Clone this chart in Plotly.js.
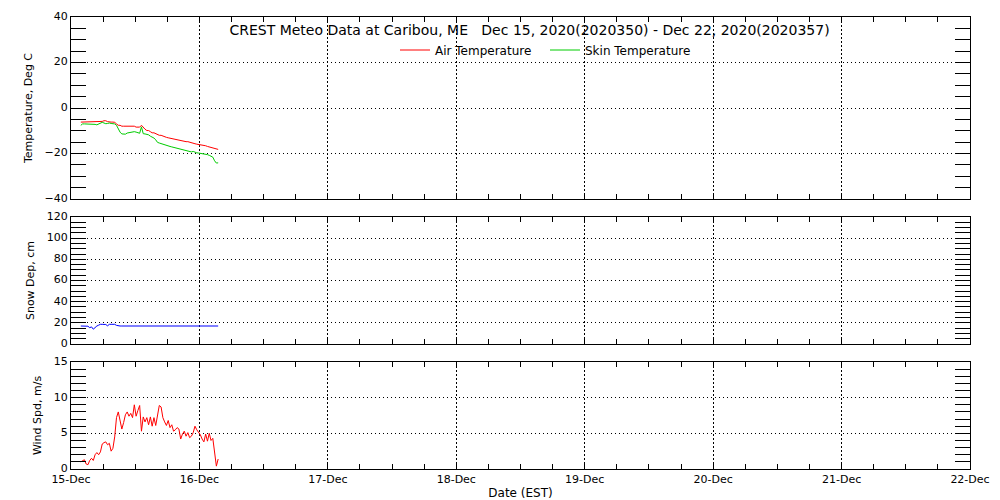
<!DOCTYPE html>
<html><head><meta charset="utf-8">
<script src="https://cdn.plot.ly/plotly-3.0.1.min.js"></script>
<style>html,body{margin:0;padding:0;background:#fff}#chart{width:1000px;height:500px}</style>
</head><body><div id="chart"></div>
<script>
const times = [
'2020-12-15 01:50','2020-12-15 02:10','2020-12-15 02:30','2020-12-15 02:50','2020-12-15 03:10','2020-12-15 03:30','2020-12-15 03:50','2020-12-15 04:10','2020-12-15 04:30','2020-12-15 04:50',
'2020-12-15 05:10','2020-12-15 05:30','2020-12-15 05:50','2020-12-15 06:10','2020-12-15 06:30','2020-12-15 06:50','2020-12-15 07:10','2020-12-15 07:30','2020-12-15 07:50','2020-12-15 08:10',
'2020-12-15 08:30','2020-12-15 08:50','2020-12-15 09:10','2020-12-15 09:30','2020-12-15 09:50','2020-12-15 10:10','2020-12-15 10:30','2020-12-15 10:50','2020-12-15 11:10','2020-12-15 11:30',
'2020-12-15 11:50','2020-12-15 12:10','2020-12-15 12:30','2020-12-15 12:50','2020-12-15 13:10','2020-12-15 13:30','2020-12-15 13:50','2020-12-15 14:10','2020-12-15 14:30','2020-12-15 14:50',
'2020-12-15 15:10','2020-12-15 15:30','2020-12-15 15:50','2020-12-15 16:10','2020-12-15 16:30','2020-12-15 16:50','2020-12-15 17:10','2020-12-15 17:30','2020-12-15 17:50','2020-12-15 18:10',
'2020-12-15 18:30','2020-12-15 18:50','2020-12-15 19:10','2020-12-15 19:30','2020-12-15 19:50','2020-12-15 20:10','2020-12-15 20:30','2020-12-15 20:50','2020-12-15 21:10','2020-12-15 21:30',
'2020-12-15 21:50','2020-12-15 22:10','2020-12-15 22:30','2020-12-15 22:50','2020-12-15 23:10','2020-12-15 23:30','2020-12-15 23:50','2020-12-16 00:10','2020-12-16 00:30','2020-12-16 00:50',
'2020-12-16 01:10','2020-12-16 01:30','2020-12-16 01:50','2020-12-16 02:10','2020-12-16 02:30','2020-12-16 02:50','2020-12-16 03:10','2020-12-16 03:30'
];
const airTemp = [
-6.2,-6.2,-6.2,-6.2,-6.2,-6.2,-6.2,-6.2,-6.2,-6.1,
-6.0,-6.1,-5.9,-5.6,-5.6,-6.0,-6.2,-6.2,-6.2,-6.3,
-7.0,-7.6,-7.6,-8.0,-8.0,-8.0,-8.0,-8.0,-8.0,-8.0,
-8.0,-8.4,-8.4,-8.4,-7.6,-8.6,-9.3,-9.9,-9.9,-10.4,
-10.9,-10.9,-11.4,-11.6,-12.0,-12.0,-12.4,-12.6,-12.9,-13.1,
-13.3,-13.5,-13.7,-13.7,-14.0,-14.2,-14.4,-14.4,-14.6,-14.8,
-14.8,-15.1,-15.3,-15.5,-15.7,-15.9,-16.0,-16.2,-16.2,-16.4,
-16.6,-16.9,-17.1,-17.2,-17.4,-17.8,-18.1,-18.2
];
const skinTemp = [
-7.6,-7.0,-7.0,-7.0,-7.1,-7.0,-7.2,-7.0,-7.2,-7.4,
-7.0,-6.6,-6.3,-6.6,-6.9,-6.8,-6.6,-6.8,-6.8,-7.0,
-7.6,-9.4,-10.6,-11.4,-11.6,-11.5,-11.0,-10.8,-10.6,-10.5,
-10.4,-10.6,-10.7,-11.1,-8.3,-11.3,-11.4,-11.6,-11.8,-12.4,
-12.8,-13.2,-14.0,-15.1,-15.4,-15.7,-16.0,-16.3,-16.5,-16.7,
-16.9,-17.1,-17.3,-17.5,-17.7,-18.0,-18.3,-18.5,-18.6,-18.9,
-19.0,-19.2,-19.3,-19.1,-19.5,-19.7,-19.8,-19.9,-20.1,-20.2,
-20.3,-20.5,-20.8,-21.1,-21.6,-23.2,-24.2,-24.1
];
const snowDepth = [
17.0,17.0,17.0,17.0,16.8,15.4,16.2,14.0,15.6,17.0,
17.8,18.6,18.6,18.6,18.4,17.2,18.6,18.6,18.6,18.6,
17.6,17.0,17.0,17.0,17.0,17.0,16.7,17.0,17.0,17.0,
17.0,17.0,17.0,17.0,16.7,17.0,17.0,17.0,16.7,17.0,
17.0,17.0,17.0,17.0,16.7,17.0,17.0,17.0,17.0,17.0,
17.0,17.0,17.0,17.0,17.0,17.0,17.0,17.0,17.0,16.7,
17.0,17.0,17.0,17.0,17.0,17.0,17.0,17.0,17.0,17.0,
17.0,17.0,17.0,17.0,17.0,17.0,17.0,17.0
];
const windSpeed = [
1.0,1.2,1.3,0.7,0.6,1.2,1.5,1.2,2.0,2.3,
2.0,2.4,3.5,3.7,3.8,3.4,3.6,2.5,2.9,4.5,
7.2,8.0,7.0,5.6,6.5,7.6,8.0,7.4,7.8,7.2,
9.0,7.4,8.2,8.9,5.3,7.3,6.6,7.2,6.2,7.3,
6.0,7.2,6.1,7.4,8.9,8.7,7.2,6.6,6.1,6.8,
5.8,6.2,5.3,5.5,5.8,5.6,4.2,4.9,5.3,4.6,
5.1,4.4,4.6,5.1,6.0,5.5,5.1,4.8,4.2,3.8,
4.9,3.9,5.0,4.0,4.3,2.6,0.4,1.4
];
const dateRange = ['2020-12-15 00:00','2020-12-22 00:00'];
const titleText = 'CREST Meteo Data at Caribou, ME\u00a0\u00a0\u00a0Dec 15, 2020(2020350) - Dec 22, 2020(2020357)';

const FONT = 'DejaVu Sans, sans-serif';
const DAY = 86400000, SIXH = 21600000;

function xAx(anchor, labels, title) {
  const a = {
    type:'date', range:dateRange, anchor:anchor,
    tickmode:'linear', tick0:dateRange[0], dtick:DAY, tickformat:'%d-%b',
    showticklabels:labels, ticks:'inside', ticklen:5, tickcolor:'#000', tickwidth:1,
    minor:{tick0:dateRange[0], dtick:SIXH, ticks:'inside', ticklen:5, tickcolor:'#000', showgrid:false},
    showgrid:true, gridcolor:'#000', gridwidth:1, griddash:'2px,2px',
    showline:true, linecolor:'#000', linewidth:1, mirror:'ticks',
    zeroline:false, fixedrange:true,
    tickfont:{family:FONT, size:11, color:'#000'}
  };
  if (title) a.title = {text:title, font:{family:FONT, size:12, color:'#000'}, standoff:4};
  return a;
}
function yAx(domain, range, dtick, mdtick, title, anchor) {
  return {
    domain:domain, range:range, anchor:anchor,
    tickmode:'linear', tick0:range[0], dtick:dtick,
    ticks:'inside', ticklen:15, tickcolor:'#000', tickwidth:1,
    minor:{tick0:range[0], dtick:mdtick, ticks:'inside', ticklen:15, tickcolor:'#000', showgrid:false},
    showgrid:true, gridcolor:'#000', gridwidth:1, griddash:'1px,3px',
    showline:true, linecolor:'#000', linewidth:1, mirror:'ticks',
    zeroline:false, fixedrange:true, ticklabelshift:-1,
    tickfont:{family:FONT, size:11, color:'#000'},
    title:{text:title, font:{family:FONT, size:11, color:'#000'}, standoff:9}
  };
}

const H = 452;
const traces = [
  {x:times, y:airTemp, type:'scatter', mode:'lines', name:'Air Temperature', line:{color:'#ff0000', width:1}, xaxis:'x3', yaxis:'y3'},
  {x:times, y:skinTemp, type:'scatter', mode:'lines', name:'Skin Temperature', line:{color:'#00cc00', width:1}, xaxis:'x3', yaxis:'y3'},
  {x:times, y:snowDepth, type:'scatter', mode:'lines', name:'Snow Depth', showlegend:false, line:{color:'#0000ff', width:1}, xaxis:'x2', yaxis:'y2'},
  {x:times, y:windSpeed, type:'scatter', mode:'lines', name:'Wind Speed', showlegend:false, line:{color:'#ff0000', width:1}, xaxis:'x', yaxis:'y'}
];
const layout = {
  width:1000, height:500,
  margin:{l:71, r:30, t:17, b:31},
  paper_bgcolor:'#fff', plot_bgcolor:'#fff',
  font:{family:FONT, size:12, color:'#000'},
  title:{text:titleText, font:{family:FONT, size:14, color:'#000'}, x:(529.5-71)/899, xref:'paper', xanchor:'center', y:1-30/500, yref:'container', yanchor:'middle'},
  showlegend:true,
  legend:{orientation:'h', x:(395-71)/899, xanchor:'left', y:(469-50)/H, yanchor:'middle', bgcolor:'rgba(0,0,0,0)', entrywidth:105, font:{family:FONT, size:12, color:'#000'}, traceorder:'normal'},
  xaxis:xAx('y', true, 'Date (EST)'),
  xaxis2:xAx('y2', false),
  xaxis3:xAx('y3', false),
  yaxis:yAx([0, 107/H], [0,15], 5, 1, 'Wind Spd, m/s', 'x'),
  yaxis2:yAx([125/H, 252/H], [0,120], 20, 5, 'Snow Dep, cm', 'x2'),
  yaxis3:yAx([270/H, 1], [-40,40], 20, 5, 'Temperature, Deg C', 'x3')
};
Plotly.newPlot('chart', traces, layout, {staticPlot:true, displayModeBar:false});
</script>
</body></html>
